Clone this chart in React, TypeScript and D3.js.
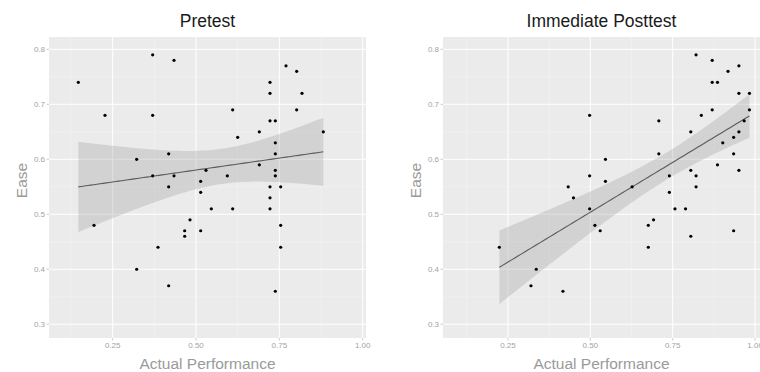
import React from 'react';
import * as d3 from 'd3';

// Pretest: actual performance vs ease
const preX = [0.147, 0.227, 0.370, 0.370, 0.434, 0.610, 0.625, 0.690, 0.722, 0.722, 0.722, 0.738,
  0.770, 0.802, 0.818, 0.802, 0.882, 0.738, 0.738, 0.322, 0.418, 0.690, 0.370, 0.434,
  0.530, 0.594, 0.738, 0.738, 0.514, 0.418, 0.514, 0.722, 0.754, 0.722, 0.546, 0.610,
  0.722, 0.194, 0.482, 0.754, 0.466, 0.466, 0.514, 0.386, 0.322, 0.418, 0.738, 0.754];
const preY = [0.74, 0.68, 0.79, 0.68, 0.78, 0.69, 0.64, 0.65, 0.74, 0.72, 0.67, 0.67,
  0.77, 0.76, 0.72, 0.69, 0.65, 0.63, 0.61, 0.60, 0.61, 0.59, 0.57, 0.57,
  0.58, 0.57, 0.58, 0.57, 0.56, 0.55, 0.54, 0.55, 0.55, 0.53, 0.51, 0.51,
  0.51, 0.48, 0.49, 0.48, 0.47, 0.46, 0.47, 0.44, 0.40, 0.37, 0.36, 0.44];

// Immediate posttest
const postX = [0.821, 0.870, 0.918, 0.951, 0.870, 0.886, 0.951, 0.983, 0.870, 0.983, 0.837, 0.498,
  0.708, 0.967, 0.805, 0.951, 0.935, 0.902, 0.708, 0.935, 0.546, 0.886, 0.498, 0.740,
  0.805, 0.821, 0.951, 0.546, 0.433, 0.449, 0.498, 0.627, 0.740, 0.757, 0.789, 0.821,
  0.514, 0.530, 0.676, 0.692, 0.676, 0.805, 0.935, 0.224, 0.336, 0.320, 0.417];
const postY = [0.79, 0.78, 0.76, 0.77, 0.74, 0.74, 0.72, 0.72, 0.69, 0.69, 0.68, 0.68,
  0.67, 0.67, 0.65, 0.65, 0.64, 0.63, 0.61, 0.61, 0.60, 0.59, 0.57, 0.57,
  0.58, 0.57, 0.58, 0.56, 0.55, 0.53, 0.51, 0.55, 0.54, 0.51, 0.51, 0.55,
  0.48, 0.47, 0.48, 0.49, 0.44, 0.46, 0.47, 0.44, 0.40, 0.37, 0.36];

const xTicks = [0.25, 0.5, 0.75, 1.0];
const xMinor = [0.125, 0.375, 0.625, 0.875];
const yTicks = [0.3, 0.4, 0.5, 0.6, 0.7, 0.8];
const yMinor = [0.35, 0.45, 0.55, 0.65, 0.75];

const FONT = '"Liberation Sans", Arial, Helvetica, sans-serif';
const TOP = 37;
const BOTTOM = 338;

// lm fit with 95% confidence band, like geom_smooth(method = "lm")
function fitLm(xs: number[], ys: number[]) {
  const n = xs.length;
  const xbar = d3.mean(xs)!;
  const ybar = d3.mean(ys)!;
  let sxx = 0, sxy = 0;
  xs.forEach((x, i) => { sxx += (x - xbar) ** 2; sxy += (x - xbar) * (ys[i] - ybar); });
  const b = sxy / sxx;
  const a = ybar - b * xbar;
  let sse = 0;
  xs.forEach((x, i) => { sse += (ys[i] - a - b * x) ** 2; });
  const s = Math.sqrt(sse / (n - 2));
  const t = 2.013;
  const [lo, hi] = d3.extent(xs) as [number, number];
  return d3.range(80).map(k => {
    const x = lo + (hi - lo) * k / 79;
    const fit = a + b * x;
    const se = s * Math.sqrt(1 / n + (x - xbar) ** 2 / sxx);
    return { x, fit, lo: fit - t * se, hi: fit + t * se };
  });
}

interface PanelProps {
  title: string;
  xs: number[];
  ys: number[];
  left: number;
  right: number;
  xDomain: [number, number];
}

const Panel: React.FC<PanelProps> = ({ title, xs, ys, left, right, xDomain }) => {
  const x = d3.scaleLinear().domain(xDomain).range([left, right]);
  const y = d3.scaleLinear().domain([0.275, 0.8224]).range([BOTTOM, TOP]);
  const band = fitLm(xs, ys);
  const area = d3.area<typeof band[0]>().x(d => x(d.x)).y0(d => y(d.lo)).y1(d => y(d.hi));
  const line = d3.line<typeof band[0]>().x(d => x(d.x)).y(d => y(d.fit));
  const cx = (left + right) / 2;
  const cy = (TOP + BOTTOM) / 2;

  return (
    <g>
      <rect x={left} y={TOP} width={right - left} height={BOTTOM - TOP} fill="#EBEBEB" />
      {xMinor.map(v => (
        <line key={'xm' + v} x1={x(v)} x2={x(v)} y1={TOP} y2={BOTTOM} stroke="#F4F4F4" strokeWidth={0.6} />
      ))}
      {yMinor.map(v => (
        <line key={'ym' + v} x1={left} x2={right} y1={y(v)} y2={y(v)} stroke="#F4F4F4" strokeWidth={0.6} />
      ))}
      {xTicks.map(v => (
        <line key={'xg' + v} x1={x(v)} x2={x(v)} y1={TOP} y2={BOTTOM} stroke="#FFFFFF" strokeWidth={1} />
      ))}
      {yTicks.map(v => (
        <line key={'yg' + v} x1={left} x2={right} y1={y(v)} y2={y(v)} stroke="#FFFFFF" strokeWidth={1} />
      ))}
      <path d={area(band)!} fill="#999999" fillOpacity={0.3} />
      <path d={line(band)!} fill="none" stroke="#5a5a5a" strokeWidth={1.1} />
      {xs.map((v, i) => (
        <circle key={i} cx={x(v)} cy={y(ys[i])} r={1.6} fill="#000" />
      ))}
      {yTicks.map(v => (
        <g key={'yt' + v}>
          <line x1={left - 2.5} x2={left} y1={y(v)} y2={y(v)} stroke="#AAAAAA" strokeWidth={0.6} />
          <text x={left - 4} y={y(v)} dy="0.35em" textAnchor="end" fontSize={8} fill="#A3A3A3" fontFamily={FONT}>
            {v.toFixed(1)}
          </text>
        </g>
      ))}
      {xTicks.map(v => (
        <g key={'xt' + v}>
          <line x1={x(v)} x2={x(v)} y1={BOTTOM} y2={BOTTOM + 2.5} stroke="#AAAAAA" strokeWidth={0.6} />
          <text x={x(v)} y={347.5} textAnchor="middle" fontSize={8} fill="#A3A3A3" fontFamily={FONT}>
            {v.toFixed(2)}
          </text>
        </g>
      ))}
      <text x={cx} y={26.5} textAnchor="middle" fontSize={17.5} fill="#1a1a1a" fontFamily={FONT}>{title}</text>
      <text x={cx} y={368.5} textAnchor="middle" fontSize={15.5} fill="#9A9A9A" fontFamily={FONT}>Actual Performance</text>
      <text transform={`translate(${left - 22.5},${cy - 7}) rotate(-90)`} textAnchor="middle" fontSize={15.5}
        fill="#9A9A9A" fontFamily={FONT}>Ease</text>
    </g>
  );
};

export default function App() {
  return (
    <svg width={760} height={372} style={{ position: 'absolute', left: 0, top: 0, background: '#fff' }}>
      <Panel title="Pretest" xs={preX} ys={preY} left={49} right={366} xDomain={[0.059, 1.01]} />
      <Panel title="Immediate Posttest" xs={postX} ys={postY} left={443} right={760} xDomain={[0.053, 1.015]} />
    </svg>
  );
}
